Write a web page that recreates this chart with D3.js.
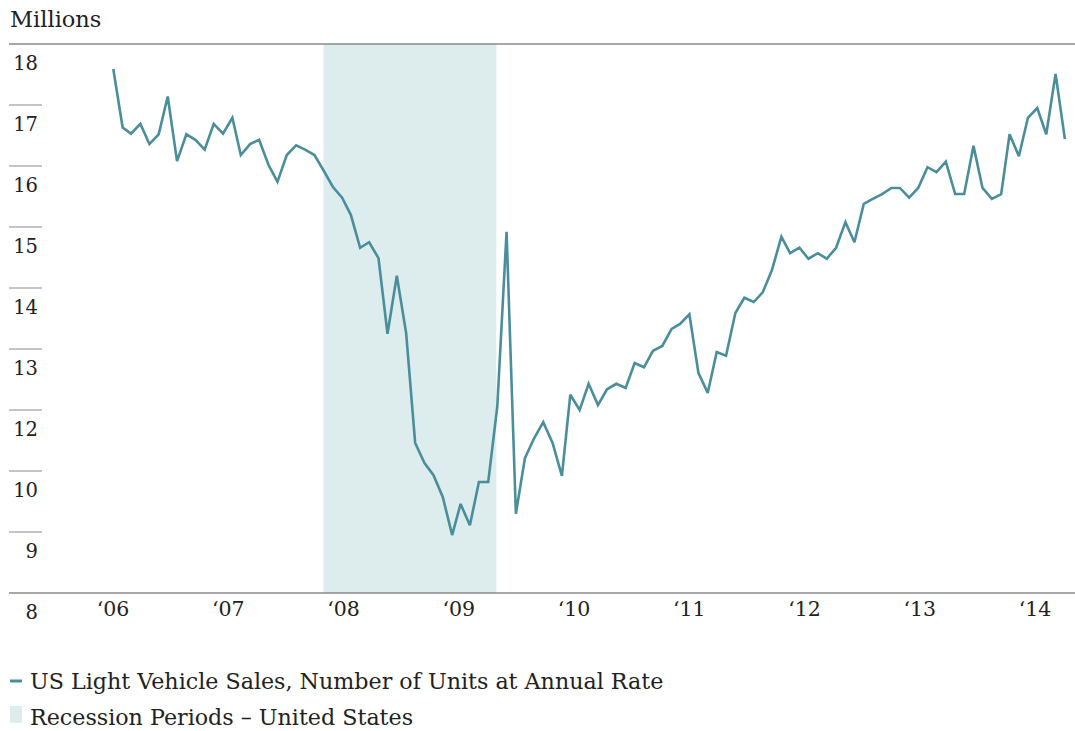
<!DOCTYPE html>
<html>
<head>
<meta charset="utf-8">
<script src="https://cdn.jsdelivr.net/npm/d3@7"></script>
<style>
  html, body { margin: 0; padding: 0; background: #fff; }
  svg text { font-family: "DejaVu Serif", "Liberation Serif", serif; fill: #222; }
</style>
</head>
<body>
<svg id="chart" width="1075" height="731"></svg>
<script>
// US light vehicle sales, seasonally adjusted annual rate (millions), monthly Jan 2006 – Sep 2014
const startMonth = new Date(2006, 0, 1);
const salesValues = [
  17.59, 16.63, 16.53, 16.69, 16.36, 16.52, 17.14, 16.08, 16.52, 16.43, 16.27, 16.69,
  16.53, 16.79, 16.18, 16.36, 16.43, 16.02, 15.74, 16.18, 16.34, 16.27, 16.18, 15.93,
  15.66, 15.48, 15.20, 14.66, 14.75, 14.49, 13.25, 14.20, 13.26, 11.46, 11.13, 10.93,
  10.57, 9.95, 10.46, 10.11, 10.82, 10.82, 12.05, 14.92, 10.30, 11.21, 11.54, 11.80,
  11.46, 10.92, 12.25, 12.00, 12.43, 12.08, 12.34, 12.43, 12.36, 12.77, 12.70, 12.97,
  13.05, 13.33, 13.41, 13.57, 12.61, 12.28, 12.95, 12.89, 13.59, 13.84, 13.77, 13.93,
  14.30, 14.84, 14.57, 14.66, 14.48, 14.57, 14.48, 14.66, 15.08, 14.75, 15.38, 15.46,
  15.54, 15.64, 15.64, 15.48, 15.64, 15.98, 15.90, 16.07, 15.54, 15.54, 16.33, 15.64,
  15.46, 15.54, 16.52, 16.16, 16.79, 16.95, 16.52, 17.51, 16.44
];
const months = salesValues.map((_, i) => d3.timeMonth.offset(startMonth, i));

// Recession period (NBER)
const recessionStart = new Date(2007, 11, 1);
const recessionEnd = new Date(2009, 5, 28);

// Axis labels
const yTickValues = [18, 17, 16, 15, 14, 13, 12, 11, 10, 9];
const yTickLabels = ["18", "17", "16", "15", "14", "13", "12", "10", "9", "8"];
const yearLabels = ["‘06", "‘07", "‘08", "‘09", "‘10", "‘11", "‘12", "‘13", "‘14"];

const lineColor = "#4a8e9b";
const recessionColor = "#ddeced";

const svg = d3.select("#chart");

const plotTop = 44, plotBottom = 593, plotLeft = 9, plotRight = 1075;

const x = d3.scaleTime()
  .domain([months[0], months[months.length - 1]])
  .range([113.3, 1064.9]);

const y = d3.scaleLinear()
  .domain([9, 18])
  .range([plotBottom, plotTop]);

const yearScale = d3.scalePoint()
  .domain(yearLabels)
  .range([113, 1035]);

// Title
svg.append("text")
  .attr("x", 10).attr("y", 27)
  .attr("font-size", 22.5)
  .text("Millions");

// Recession shading
svg.append("rect")
  .attr("x", x(recessionStart))
  .attr("y", plotTop)
  .attr("width", x(recessionEnd) - x(recessionStart))
  .attr("height", plotBottom - plotTop)
  .attr("fill", recessionColor);

// Frame lines (top and bottom)
svg.append("line")
  .attr("x1", plotLeft).attr("x2", plotRight)
  .attr("y1", y(18)).attr("y2", y(18))
  .attr("stroke", "#8a8a8a").attr("stroke-width", 1.5);
svg.append("line")
  .attr("x1", plotLeft).attr("x2", plotRight)
  .attr("y1", y(9)).attr("y2", y(9))
  .attr("stroke", "#8a8a8a").attr("stroke-width", 1.5);

// Y ticks: short rules with the label sitting below each rule
const yTicks = svg.append("g").attr("class", "y-axis");
yTicks.selectAll("line")
  .data(yTickValues.filter(v => v !== 18 && v !== 9))
  .join("line")
  .attr("x1", plotLeft).attr("x2", 42)
  .attr("y1", d => y(d)).attr("y2", d => y(d))
  .attr("stroke", "#8a8a8a").attr("stroke-width", 1);
yTicks.selectAll("text")
  .data(yTickValues)
  .join("text")
  .attr("x", 38)
  .attr("y", d => y(d) + 26)
  .attr("text-anchor", "end")
  .attr("font-size", 19.5)
  .text((d, i) => yTickLabels[i]);

// X axis year labels
svg.append("g").attr("class", "x-axis")
  .selectAll("text")
  .data(yearLabels)
  .join("text")
  .attr("x", d => yearScale(d))
  .attr("y", 616)
  .attr("text-anchor", "middle")
  .attr("font-size", 20.5)
  .text(d => d);

// Sales line
const line = d3.line()
  .x((d, i) => x(months[i]))
  .y(d => y(d));

svg.append("path")
  .datum(salesValues)
  .attr("d", line)
  .attr("fill", "none")
  .attr("stroke", lineColor)
  .attr("stroke-width", 2.6)
  .attr("stroke-linejoin", "miter")
  .attr("stroke-miterlimit", 3);

// Legend
const legend = svg.append("g").attr("class", "legend");
legend.append("line")
  .attr("x1", 10).attr("x2", 22)
  .attr("y1", 681).attr("y2", 681)
  .attr("stroke", lineColor).attr("stroke-width", 3);
legend.append("text")
  .attr("x", 30).attr("y", 689)
  .attr("font-size", 22.2)
  .text("US Light Vehicle Sales, Number of Units at Annual Rate");
legend.append("rect")
  .attr("x", 10).attr("y", 706)
  .attr("width", 12).attr("height", 17)
  .attr("fill", recessionColor);
legend.append("text")
  .attr("x", 30).attr("y", 725)
  .attr("font-size", 22.2)
  .text("Recession Periods – United States");
</script>
</body>
</html>
